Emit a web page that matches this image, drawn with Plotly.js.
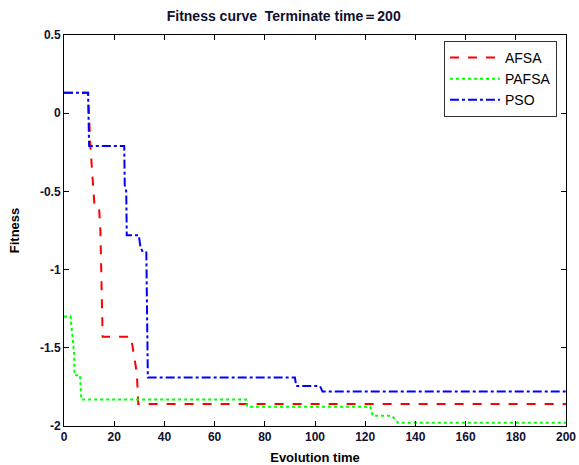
<!DOCTYPE html>
<html>
<head>
<meta charset="utf-8">
<script src="https://cdn.plot.ly/plotly-3.0.1.min.js"></script>
<style>html,body{margin:0;padding:0;background:#fff;}#chart{width:579px;height:465px;}</style>
</head>
<body>
<div id="chart"></div>
<script>
// AFSA (red dashed)
const afsaX = [0, 9.6, 10.5, 11, 11.6, 12.2, 14, 14.5, 15.4, 26.7, 27, 28, 29, 29.6, 200];
const afsaY = [0.13, 0.13, -0.21, -0.32, -0.5, -0.6, -0.61, -0.75, -1.43, -1.43, -1.46, -1.55, -1.66, -1.86, -1.86];
// PAFSA (green dotted)
const pafsaX = [0, 2.6, 4, 4.2, 6.4, 6.9, 72.5, 73, 122, 123, 130.7, 133, 200];
const pafsaY = [-1.30, -1.30, -1.53, -1.675, -1.675, -1.83, -1.83, -1.877, -1.877, -1.935, -1.935, -1.98, -1.98];
// PSO (blue dash-dot)
const psoX = [0, 9.6, 10, 24, 24.2, 24.8, 25, 29.8, 30.5, 31.5, 32.8, 33.4, 92, 92.5, 102, 103, 200];
const psoY = [0.13, 0.13, -0.21, -0.21, -0.46, -0.5, -0.78, -0.78, -0.86, -0.89, -0.89, -1.69, -1.69, -1.745, -1.745, -1.78, -1.78];

const xTicks = [0, 20, 40, 60, 80, 100, 120, 140, 160, 180, 200];
const xTickText = ["0", "20", "40", "60", "80", "100", "120", "140", "160", "180", "200"];
const yTicks = [0.5, 0, -0.5, -1, -1.5, -2];
const yTickText = ["0.5", "0", "-0.5", "-1", "-1.5", "-2"];

const seriesNames = ["AFSA", "PAFSA", "PSO"];

const fontFam = "Liberation Sans, Arial, sans-serif";
const tickFont = {family: fontFam, size: 12, color: "#101030", weight: "bold"};

const traces = [
  {x: afsaX, y: afsaY, name: seriesNames[0], mode: "lines",
   line: {color: "#ff0000", width: 2, dash: "dash"}},
  {x: pafsaX, y: pafsaY, name: seriesNames[1], mode: "lines",
   line: {color: "#00ff00", width: 2, dash: "dot"}},
  {x: psoX, y: psoY, name: seriesNames[2], mode: "lines",
   line: {color: "#0000ff", width: 2, dash: "dashdot"}}
];

const layout = {
  width: 579, height: 465,
  margin: {l: 64, r: 13, t: 35, b: 39, pad: 0},
  paper_bgcolor: "#fff", plot_bgcolor: "#fff",
  title: {text: "Fitness curve  Terminate time＝200", x: 0.49, xanchor: "center", y: 0.965, yanchor: "middle",
          font: {family: fontFam, size: 14, color: "#101030", weight: "bold"}},
  xaxis: {range: [0, 200], tickvals: xTicks, ticktext: xTickText,
          showgrid: false, zeroline: false, showline: true, linecolor: "#000", linewidth: 1,
          mirror: "allticks", ticks: "inside", ticklen: 5, tickcolor: "#000",
          tickfont: tickFont, automargin: false,
          title: {text: "Evolution time", standoff: 11, font: {family: fontFam, size: 13, color: "#000", weight: "bold"}}},
  yaxis: {range: [-2, 0.5], tickvals: yTicks, ticktext: yTickText,
          showgrid: false, zeroline: false, showline: true, linecolor: "#000", linewidth: 1,
          mirror: "allticks", ticks: "inside", ticklen: 5, tickcolor: "#000",
          tickfont: tickFont, automargin: false,
          title: {text: "Fitness", standoff: 17, font: {family: fontFam, size: 13, color: "#000", weight: "bold"}}},
  legend: {x: 0.982, xanchor: "right", y: 0.985, yanchor: "top",
           bordercolor: "#333", borderwidth: 1, bgcolor: "#fff",
           font: {family: fontFam, size: 14, color: "#000"},
           tracegroupgap: 0, itemwidth: 50},
  showlegend: true
};

Plotly.newPlot("chart", traces, layout, {staticPlot: true, displayModeBar: false});
</script>
</body>
</html>
